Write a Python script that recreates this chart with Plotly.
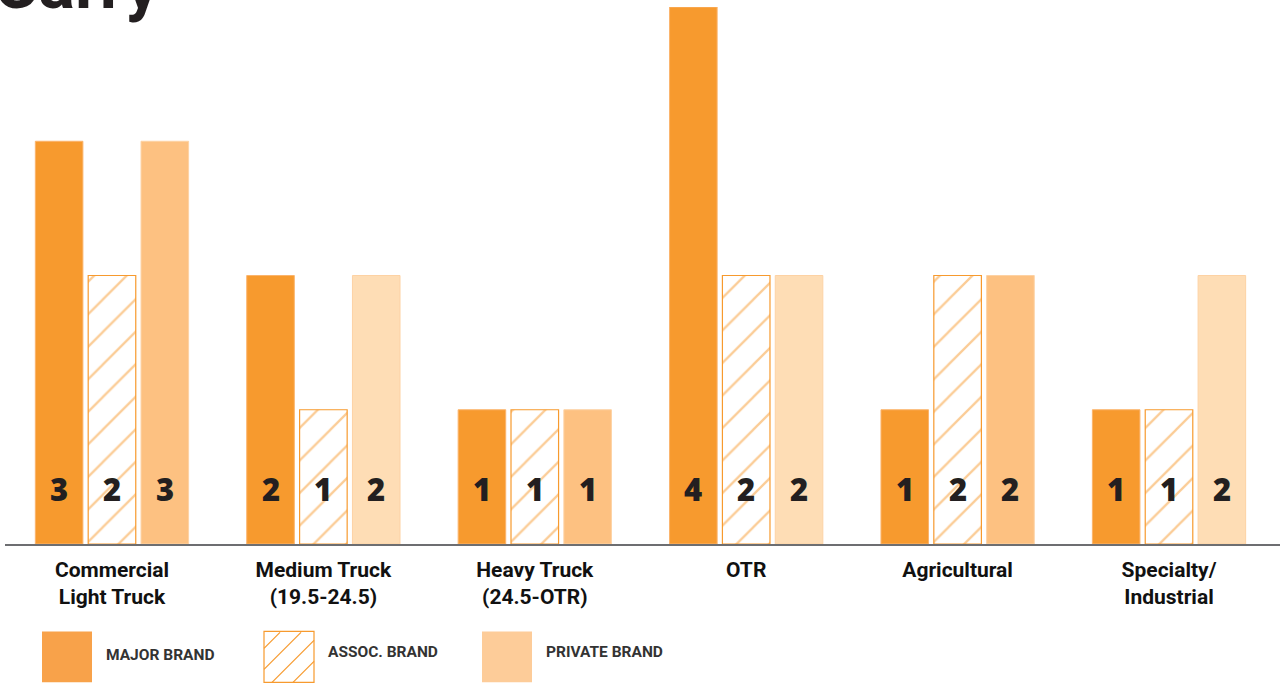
import plotly.graph_objects as go

categories = ["Commercial<br>Light Truck", "Medium Truck<br>(19.5-24.5)", "Heavy Truck<br>(24.5-OTR)",
              "OTR", "Agricultural", "Specialty/<br>Industrial"]
major_brand = [3, 2, 1, 4, 1, 1]
assoc_brand = [2, 1, 1, 2, 2, 1]
private_brand = [3, 2, 1, 2, 2, 2]

ORANGE = "#F79A2E"
PRIVATE_MID = "#FDC181"
PRIVATE_LIGHT = "#FEDDB5"
private_colors = [PRIVATE_MID, PRIVATE_LIGHT, PRIVATE_MID, PRIVATE_LIGHT, PRIVATE_MID, PRIVATE_LIGHT]
INK = "#231F20"

# plot area in pixels (used for the paper-space legend / title)
L, R, T, B = 5, 1280, 7, 544.5
W_FIG, H_FIG = 1284, 683


def px(x):
    return (x - L) / (R - L)


def py(y):
    return (B - y) / (B - T)


fig = go.Figure()

fig.add_trace(go.Bar(
    x=categories, y=major_brand, name="MAJOR BRAND",
    marker=dict(color=ORANGE, line=dict(color="#FBB46C", width=1)),
))
fig.add_trace(go.Bar(
    x=categories, y=assoc_brand, name="ASSOC. BRAND",
    marker=dict(color="white", line=dict(color=ORANGE, width=1.2),
                pattern=dict(shape="/", fgcolor=ORANGE, bgcolor="white", size=23, solidity=0.1)),
))
fig.add_trace(go.Bar(
    x=categories, y=private_brand, name="PRIVATE BRAND",
    marker=dict(color=private_colors, line=dict(color="#FDD2A4", width=1)),
))

# value labels sitting low inside each bar
annotations = []
for j, series in enumerate([major_brand, assoc_brand, private_brand]):
    for i, v in enumerate(series):
        annotations.append(dict(
            x=i + (j - 1) * 0.25, y=0.41, xref="x", yref="y", text=str(v), showarrow=False,
            font=dict(family="Open Sans", size=31, color=INK, weight=800), yanchor="middle",
        ))

# cropped title at the very top
annotations.append(dict(
    x=px(-8), y=py(27), xref="paper", yref="paper", text="<b>Carry</b>", showarrow=False,
    xanchor="left", yanchor="bottom", font=dict(family="Roboto", size=68, color=INK, weight=900),
))

# custom legend
shapes = []
legend_items = [("MAJOR BRAND", 42, "#F8A24A", 656), ("ASSOC. BRAND", 264, None, 653),
                ("PRIVATE BRAND", 482, "#FDCC99", 653)]
for label, x0, fill, ty in legend_items:
    x1, y0, y1 = x0 + 50, 632, 683
    size = x1 - x0
    if fill:
        shapes.append(dict(type="rect", xref="paper", yref="paper", x0=px(x0), x1=px(x1),
                           y0=py(y1), y1=py(y0), fillcolor=fill, line=dict(width=0)))
    else:
        shapes.append(dict(type="rect", xref="paper", yref="paper", x0=px(x0), x1=px(x1),
                           y0=py(y1), y1=py(y0), fillcolor="white", line=dict(color=ORANGE, width=1.2)))
        # hatch lines "/" clipped to the square: height-above-bottom w = u - c
        step = 21
        for k in range(-3, 4):
            c = k * step + 8
            u_start = max(0, c)
            u_end = min(size, size + c)
            if u_end - u_start < 2:
                continue
            shapes.append(dict(type="line", xref="paper", yref="paper",
                               x0=px(x0 + u_start), y0=py(y1 - (u_start - c)),
                               x1=px(x0 + u_end), y1=py(y1 - (u_end - c)),
                               line=dict(color=ORANGE, width=1.2)))
    annotations.append(dict(
        x=px(x1 + 12), y=py(ty), xref="paper", yref="paper", text=label, showarrow=False,
        xanchor="left", yanchor="middle", font=dict(family="Roboto", size=15.5, color="#333333", weight=700),
    ))

fig.update_layout(
    width=W_FIG, height=H_FIG,
    margin=dict(l=L, r=W_FIG - R, t=T, b=H_FIG - B),
    barmode="group", bargap=0.25, bargroupgap=0.1,
    paper_bgcolor="white", plot_bgcolor="white",
    showlegend=False,
    annotations=annotations, shapes=shapes,
)
fig.update_xaxes(
    range=[-0.506, 5.525], showgrid=False, zeroline=False,
    showline=True, linecolor="#6D6E71", linewidth=1.5,
    tickfont=dict(family="Roboto", size=21, color="#111111", weight=700),
    ticks="", ticklabelstandoff=6,
)
fig.update_yaxes(range=[0, 4], visible=False, showgrid=False, zeroline=False)

fig.write_html("out.html", config={"displayModeBar": False},
               post_script="document.body.style.margin='0';")
